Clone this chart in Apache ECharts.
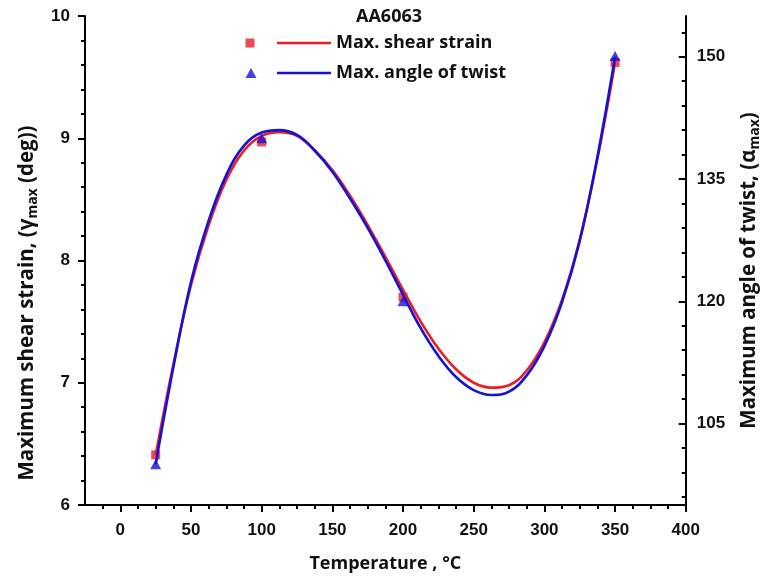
<!DOCTYPE html>
<html>
<head>
<meta charset="utf-8">
<script src="https://cdn.jsdelivr.net/npm/echarts@6/dist/echarts.min.js"></script>
<style>html,body{margin:0;padding:0;background:#fff;}#c{width:770px;height:584px;}</style>
</head>
<body>
<div id="c"></div>
<script>
// ---- data ----
const curveTemps = [25, 37.5, 50, 62.5, 75, 87.5, 100, 112.5, 125, 137.5, 150, 162.5, 175, 187.5, 200, 212.5, 225, 237.5, 250, 262.5, 275, 287.5, 300, 312.5, 325, 337.5, 350];
const strainCurve = [6.41, 7.15, 7.80, 8.29, 8.66, 8.90, 9.02, 9.05, 9.02, 8.90, 8.74, 8.53, 8.29, 8.03, 7.76, 7.50, 7.28, 7.11, 7.00, 6.96, 6.98, 7.10, 7.33, 7.68, 8.17, 8.83, 9.62];
const twistCurve = [100.0, 111.9, 122.4, 129.9, 135.5, 139.1, 140.7, 141.0, 140.4, 138.5, 135.9, 132.6, 129.0, 125.0, 120.8, 116.7, 113.3, 110.7, 109.1, 108.5, 108.9, 110.9, 114.5, 119.9, 127.4, 137.7, 150.0];
const markerTemps = [25, 100, 200, 350];
const strainMarkers = [6.41, 8.97, 7.70, 9.62];
const twistMarkers = [100.0, 140.0, 120.0, 150.1];

const xMajorTicks = [0, 50, 100, 150, 200, 250, 300, 350, 400];
const xMinorTicks = [-12.5, 12.5, 25, 37.5, 62.5, 75, 87.5, 112.5, 125, 137.5, 162.5, 175, 187.5, 212.5, 225, 237.5, 262.5, 275, 287.5, 312.5, 325, 337.5, 362.5, 375, 387.5];
const rightMajorTicks = [105, 120, 135, 150];
const rightMinorTicks = [96, 99, 102, 108, 111, 114, 117, 123, 126, 129, 132, 138, 141, 144, 147, 153];

const pair = (xs, ys) => xs.map((x, i) => [x, ys[i]]);

const RED = '#ec1c24';
const BLUE = '#1212d8';
const TXT = '"Open Sans", Lato, sans-serif';
const NUM = '"Liberation Sans", Arial, sans-serif';

const chart = echarts.init(document.getElementById('c'), null, {renderer: 'canvas'});

const legendBase = {
  orient: 'horizontal', selectedMode: false, padding: 0,
  textStyle: {fontFamily: TXT, fontWeight: 'bold', fontSize: 18, lineHeight: 22, color: '#111'}
};

chart.setOption({
  animation: false,
  backgroundColor: '#fff',
  title: {
    text: 'AA6063', left: 384, top: 3, textAlign: 'center',
    textStyle: {fontFamily: TXT, fontWeight: 'bold', fontSize: 18, color: '#111'}
  },
  legend: [
    Object.assign({}, legendBase, {left: 245.5, top: 32, icon: 'rect', itemWidth: 9, itemHeight: 9,
      data: ['Max. shear strain (data)'], textStyle: Object.assign({}, legendBase.textStyle, {color: 'rgba(0,0,0,0)'})}),
    Object.assign({}, legendBase, {left: 245.5, top: 62, icon: 'triangle', itemWidth: 11, itemHeight: 10,
      data: ['Max. angle of twist (data)'], textStyle: Object.assign({}, legendBase.textStyle, {color: 'rgba(0,0,0,0)'})}),
    Object.assign({}, legendBase, {left: 277, top: 32, icon: 'rect', itemWidth: 54, itemHeight: 2.6,
      data: ['Max. shear strain']}),
    Object.assign({}, legendBase, {left: 277, top: 62, icon: 'rect', itemWidth: 54, itemHeight: 2.6,
      data: ['Max. angle of twist']})
  ],
  grid: {left: 85, right: 78, top: 16, bottom: 79, containLabel: false},
  xAxis: [
    {
      type: 'value', min: -25, max: 400, position: 'bottom',
      name: 'Temperature , °C', nameLocation: 'middle', nameGap: 50,
      nameTextStyle: {fontFamily: TXT, fontWeight: 'bold', fontSize: 18, color: '#111'},
      axisLine: {show: true, onZero: false, lineStyle: {color: '#000', width: 2}},
      axisTick: {show: true, inside: false, length: 7, customValues: xMajorTicks, lineStyle: {color: '#000', width: 2}},
      axisLabel: {show: true, margin: 17, customValues: xMajorTicks, fontFamily: NUM, fontWeight: 'bold', fontSize: 17, color: '#111'},
      splitLine: {show: false}
    },
    {
      type: 'value', min: -25, max: 400, position: 'bottom',
      axisLine: {show: false, onZero: false},
      axisTick: {show: true, inside: false, length: 4, customValues: xMinorTicks, lineStyle: {color: '#000', width: 2}},
      axisLabel: {show: false},
      splitLine: {show: false}
    }
  ],
  yAxis: [
    {
      type: 'value', min: 6, max: 10, interval: 1, position: 'left',
      name: 'Maximum shear strain, (γ{sub|max} (deg))', nameLocation: 'middle', nameGap: 35, nameRotate: 90,
      nameTextStyle: {fontFamily: TXT, fontWeight: 'bold', fontSize: 20.5, color: '#111', lineHeight: 26,
        padding: [0, 85, 0, 0],
        rich: {sub: {fontFamily: TXT, fontWeight: 'bold', fontSize: 14, lineHeight: 14, verticalAlign: 'bottom', color: '#111'}}},
      axisLine: {show: true, onZero: false, lineStyle: {color: '#000', width: 2}},
      axisTick: {show: true, inside: false, length: 7, lineStyle: {color: '#000', width: 2}},
      minorTick: {show: true, splitNumber: 5, length: 4, lineStyle: {color: '#000', width: 2}},
      axisLabel: {margin: 15, fontFamily: NUM, fontWeight: 'bold', fontSize: 17, color: '#111'},
      splitLine: {show: false}, minorSplitLine: {show: false}
    },
    {
      type: 'value', min: 95, max: 155, position: 'right',
      name: 'Maximum angle of twist, (α{sub|max})', nameLocation: 'middle', nameGap: 34, nameRotate: 90,
      nameTextStyle: {fontFamily: TXT, fontWeight: 'bold', fontSize: 20.5, color: '#111', lineHeight: 26,
        padding: [0, 20, 0, 0],
        rich: {sub: {fontFamily: TXT, fontWeight: 'bold', fontSize: 14, lineHeight: 14, verticalAlign: 'bottom', color: '#111'}}},
      axisLine: {show: true, onZero: false, lineStyle: {color: '#000', width: 2}},
      axisTick: {show: true, inside: true, length: 7, customValues: rightMajorTicks, lineStyle: {color: '#000', width: 2}},
      axisLabel: {show: true, margin: 11, customValues: rightMajorTicks, fontFamily: NUM, fontWeight: 'bold', fontSize: 17, color: '#111'},
      splitLine: {show: false}
    },
    {
      type: 'value', min: 95, max: 155, position: 'right',
      axisLine: {show: false, onZero: false},
      axisTick: {show: true, inside: true, length: 4, customValues: rightMinorTicks, lineStyle: {color: '#000', width: 2}},
      axisLabel: {show: false},
      splitLine: {show: false}
    }
  ],
  series: [
    {
      name: 'Max. shear strain (data)', type: 'scatter', xAxisIndex: 0, yAxisIndex: 0, z: 1,
      symbol: 'rect', symbolSize: 9, itemStyle: {color: RED},
      data: pair(markerTemps, strainMarkers)
    },
    {
      name: 'Max. shear strain', type: 'line', xAxisIndex: 0, yAxisIndex: 0, z: 2,
      smooth: 0.4, showSymbol: false, symbol: 'none',
      lineStyle: {color: RED, width: 2.6}, itemStyle: {color: RED},
      data: pair(curveTemps, strainCurve)
    },
    {
      name: 'Max. angle of twist', type: 'line', xAxisIndex: 0, yAxisIndex: 1, z: 3,
      smooth: 0.4, showSymbol: false, symbol: 'none',
      lineStyle: {color: BLUE, width: 2.6}, itemStyle: {color: BLUE},
      data: pair(curveTemps, twistCurve)
    },
    {
      name: 'Max. angle of twist (data)', type: 'scatter', xAxisIndex: 0, yAxisIndex: 1, z: 4,
      symbol: 'triangle', symbolSize: [11, 10], itemStyle: {color: BLUE},
      data: pair(markerTemps, twistMarkers)
    }
  ]
});
</script>
</body>
</html>
